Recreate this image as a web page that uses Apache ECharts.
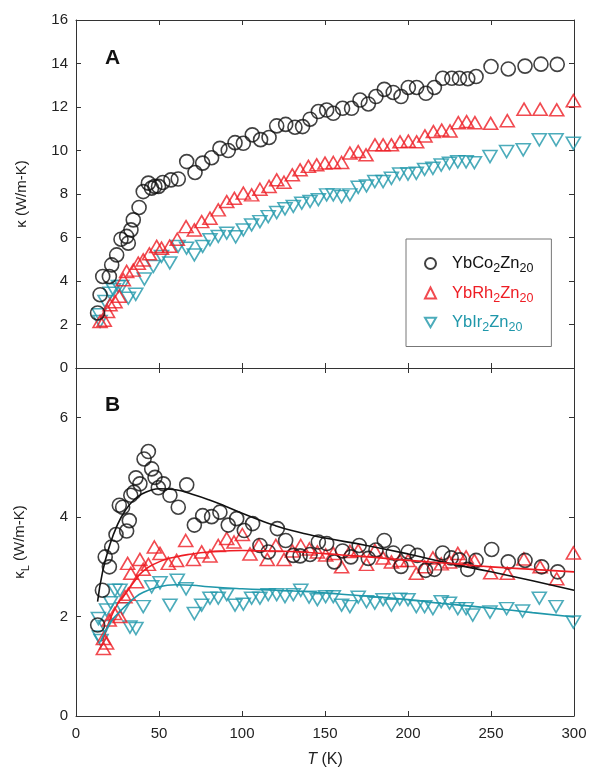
<!DOCTYPE html>
<html>
<head>
<meta charset="utf-8">
<script src="https://cdn.jsdelivr.net/npm/echarts@6/dist/echarts.min.js"></script>
<style>
  html, body { margin: 0; padding: 0; background: #fff; }
  #chart { width: 593px; height: 774px; }
</style>
</head>
<body>
<div id="chart"></div>
<script>
// Total thermal conductivity, kappa (W/m-K), panel A
const coT = [13.0, 14.5, 16.1, 20.1, 21.5, 24.5, 27.1, 30.5, 31.5, 33.1, 34.5, 38.0, 40.5, 43.6, 45.5, 47.5, 49.7, 52.3, 57.2, 61.6, 66.7, 71.7, 76.3, 81.7, 86.7, 91.7, 95.8, 100.8, 106.2, 111.2, 116.3, 120.9, 126.3, 131.9, 136.5, 141, 146, 151, 155, 160.6, 166, 171.1, 176.1, 180.7, 185.7, 191.1, 195.8, 200.2, 205.2, 210.8, 215.9, 220.9, 226.4, 231, 236, 241, 250, 260.4, 270.5, 280.1, 289.9];
const coK = [2.53, 3.37, 4.21, 4.21, 4.74, 5.2, 5.92, 6.05, 5.74, 6.35, 6.81, 7.38, 8.11, 8.5, 8.27, 8.35, 8.35, 8.53, 8.65, 8.69, 9.49, 8.99, 9.42, 9.67, 10.1, 10.0, 10.36, 10.33, 10.72, 10.5, 10.6, 11.13, 11.2, 11.07, 11.1, 11.44, 11.79, 11.86, 11.71, 11.94, 11.94, 12.32, 12.14, 12.48, 12.81, 12.67, 12.48, 12.9, 12.9, 12.63, 12.9, 13.32, 13.32, 13.32, 13.3, 13.4, 13.86, 13.75, 13.88, 13.97, 13.96];

const rhT = [14.5, 17, 19, 20.5, 23.5, 26, 28.5, 30.5, 34.5, 37.5, 40.5, 44.2, 48.6, 51.5, 56.4, 61, 66.3, 71.3, 75.7, 80.7, 85.7, 90.8, 95.4, 100.8, 105.8, 110.8, 116.3, 120.9, 125.3, 130.3, 135, 140, 145, 150, 155, 160, 165, 170, 174.7, 180.1, 185, 190, 195.2, 200.2, 205.2, 210.2, 215.3, 220.3, 225.3, 230.3, 235.3, 240.3, 249.8, 259.8, 269.9, 279.6, 289.6, 299.6];
const rhK = [2.14, 2.2, 2.6, 2.91, 3.05, 3.3, 4.06, 4.44, 4.5, 4.82, 4.97, 5.25, 5.59, 5.51, 5.6, 5.92, 6.5, 6.35, 6.73, 6.89, 7.27, 7.65, 7.8, 8.04, 7.96, 8.22, 8.35, 8.65, 8.54, 8.88, 9.11, 9.27, 9.34, 9.42, 9.45, 9.45, 9.88, 9.95, 9.8, 10.26, 10.26, 10.26, 10.4, 10.43, 10.4, 10.67, 10.87, 10.94, 10.9, 11.28, 11.33, 11.28, 11.25, 11.37, 11.9, 11.9, 11.87, 12.29];

const irT = [14, 14.5, 17.5, 20.5, 22.5, 25.5, 27.5, 31.5, 36, 41.2, 46.6, 51.5, 56.5, 61.5, 66.6, 71.3, 76.3, 80.7, 85.7, 90.8, 96.2, 100.8, 105.8, 110.8, 115.8, 120.9, 125.9, 130.9, 136, 141, 146, 151, 155, 160, 165, 170, 175, 180, 185, 190, 195, 200, 205, 210, 215, 220, 225, 230, 235, 240, 249.4, 259.4, 269.4, 279.1, 289.2, 299.6];
const irK = [2.45, 2.14, 3.06, 3.44, 3.6, 3.75, 3.75, 3.21, 3.39, 4.09, 4.67, 5.13, 4.83, 5.59, 5.51, 5.2, 5.59, 5.9, 6.05, 6.2, 6.03, 6.35, 6.58, 6.73, 6.96, 7.15, 7.32, 7.43, 7.58, 7.66, 7.74, 7.96, 7.96, 7.88, 7.96, 8.31, 8.37, 8.57, 8.57, 8.72, 8.92, 8.92, 8.95, 9.13, 9.18, 9.33, 9.41, 9.48, 9.48, 9.44, 9.72, 9.95, 10.03, 10.49, 10.49, 10.33];

// Lattice thermal conductivity, kappa_L (W/m-K), panel B
const coLT = [13.05, 15.9, 17.6, 20.1, 21.5, 24.1, 26.1, 28.1, 30.5, 32.1, 33, 34.9, 36.1, 38.5, 41, 43.6, 45.6, 47.6, 49.6, 52.6, 56.6, 61.6, 66.7, 71.3, 76.3, 81.7, 86.7, 91.7, 96.8, 101.4, 106.4, 110.8, 115.8, 121.3, 126.3, 130.9, 135, 141, 146, 151, 155.6, 160.6, 165.6, 170.6, 176.1, 180.7, 185.7, 191.1, 195.8, 200.2, 205.6, 210.6, 215.9, 220.9, 226, 231, 236, 241, 250.4, 260.4, 270.5, 280.5, 290.2];
const coLK = [1.83, 2.53, 3.2, 3.0, 3.4, 3.65, 4.24, 4.2, 3.72, 3.93, 4.44, 4.5, 4.79, 4.67, 5.17, 5.32, 4.97, 4.8, 4.59, 4.67, 4.44, 4.2, 4.65, 3.84, 4.03, 4.01, 4.1, 3.84, 3.97, 3.73, 3.87, 3.43, 3.3, 3.77, 3.53, 3.23, 3.22, 3.25, 3.5, 3.47, 3.1, 3.32, 3.2, 3.43, 3.17, 3.34, 3.53, 3.28, 3.01, 3.3, 3.23, 2.93, 2.95, 3.28, 3.18, 3.14, 2.95, 3.13, 3.35, 3.1, 3.13, 3.0, 2.9];

const rhLT = [16.5, 16.5, 18.4, 20, 23.3, 26.5, 29.5, 31.5, 31.1, 33, 36.5, 38.5, 40.5, 43.6, 47.2, 50.6, 55.6, 60.6, 66.1, 70.7, 75.7, 80.7, 85.7, 90.8, 95.2, 100.2, 104.8, 110.2, 115.2, 120.4, 125.3, 130.3, 135.4, 140.6, 145.4, 150.4, 155, 160, 165, 170, 175, 180, 185, 190, 195, 200, 205, 210, 215, 220, 225, 230, 235, 240, 249.8, 259.8, 269.8, 279.6, 289.6, 299.6];
const rhLK = [1.36, 1.56, 1.47, 1.93, 2.06, 2.0, 2.4, 2.45, 3.07, 2.87, 2.7, 3.15, 2.95, 3.05, 3.4, 3.27, 3.07, 3.13, 3.53, 3.15, 3.3, 3.22, 3.43, 3.57, 3.5, 3.65, 3.26, 3.44, 3.15, 3.43, 3.15, 3.32, 3.43, 3.36, 3.3, 3.24, 3.27, 3.0, 3.31, 3.33, 3.05, 3.33, 3.18, 3.1, 3.13, 3.13, 2.87, 3.0, 3.18, 3.06, 3.1, 3.27, 3.2, 3.13, 2.88, 2.87, 3.16, 3.0, 2.76, 3.28];

const irLT = [13.5, 14.1, 15.1, 17.5, 18.4, 20.9, 23.5, 26.5, 28.1, 32.5, 36.1, 40.5, 45.6, 50.6, 56.6, 61, 66.3, 71.3, 75.7, 80.7, 85.7, 90.8, 95.8, 100.8, 105.8, 110.8, 115.8, 120.9, 125.9, 130.9, 135.4, 140.4, 145.4, 150.4, 155, 160, 165, 170, 175, 180, 185, 190, 195, 200, 205, 210, 215, 220, 225, 230, 235, 239, 249.4, 259.4, 269, 279.1, 289.2, 299.6];
const irLK = [1.96, 1.59, 1.52, 1.8, 2.13, 2.28, 2.53, 2.53, 2.16, 1.79, 1.76, 2.2, 2.6, 2.68, 2.23, 2.73, 2.56, 2.06, 2.23, 2.37, 2.37, 2.44, 2.23, 2.25, 2.37, 2.37, 2.44, 2.44, 2.4, 2.44, 2.53, 2.39, 2.34, 2.4, 2.4, 2.23, 2.2, 2.39, 2.3, 2.27, 2.34, 2.23, 2.35, 2.34, 2.2, 2.2, 2.16, 2.3, 2.27, 2.16, 2.16, 2.03, 2.09, 2.16, 2.11, 2.37, 2.2, 1.89];

// Model fit curves for kappa_L
const coFitT = [13, 16, 20, 25, 30, 35, 40, 45, 50, 60, 70, 80, 90, 100, 110, 120, 130, 140, 150, 175, 200, 225, 250, 275, 300];
const coFitK = [2.3, 2.9, 3.4, 3.85, 4.15, 4.35, 4.47, 4.54, 4.57, 4.55, 4.46, 4.35, 4.22, 4.08, 3.95, 3.83, 3.73, 3.65, 3.58, 3.43, 3.26, 3.07, 2.9, 2.72, 2.53];
const rhFitT = [16, 20, 25, 30, 35, 40, 50, 60, 70, 80, 90, 100, 120, 140, 160, 180, 200, 225, 250, 275, 300];
const rhFitK = [1.5, 1.9, 2.25, 2.47, 2.7, 2.9, 3.1, 3.2, 3.26, 3.3, 3.32, 3.33, 3.32, 3.29, 3.24, 3.19, 3.13, 3.07, 3.0, 2.95, 2.9];
const irFitT = [15, 20, 25, 30, 35, 40, 50, 60, 70, 80, 100, 120, 140, 160, 180, 200, 225, 250, 275, 300];
const irFitK = [1.5, 1.85, 2.05, 2.22, 2.37, 2.48, 2.6, 2.64, 2.63, 2.6, 2.56, 2.53, 2.5, 2.45, 2.4, 2.34, 2.25, 2.17, 2.08, 1.99];

// Axis ticks
const tTicks = [0, 50, 100, 150, 200, 250, 300];
const kTicks = [0, 2, 4, 6, 8, 10, 12, 14, 16];
const kLTicks = [0, 2, 4, 6];

const names = ['YbCo2Zn20', 'YbRh2Zn20', 'YbIr2Zn20'];
const nameParts = [
  [['YbCo', 'n'], ['2', 's'], ['Zn', 'n'], ['20', 's']],
  [['YbRh', 'n'], ['2', 's'], ['Zn', 'n'], ['20', 's']],
  [['YbIr', 'n'], ['2', 's'], ['Zn', 'n'], ['20', 's']]
];
const colors = ['#111111', '#ee1d24', '#1f97aa'];

const FONT = '"Liberation Sans", Arial, sans-serif';
const downTri = 'path://M0,0L14,0L7,12Z';
const symbols = ['circle', 'triangle', downTri];
const symSizes = [14, [14, 12], [14, 12]];

const zip = (xs, ys) => xs.map((x, i) => [x, ys[i]]);

const tick = { show: true, inside: true, length: 5, lineStyle: { color: '#333' } };
const line = { show: true, onZero: false, lineStyle: { color: '#333', width: 1 } };
const label = { fontFamily: FONT, fontSize: 15, color: '#222' };

function xAxis(grid, pos, withLabels) {
  return {
    type: 'value', gridIndex: grid, position: pos,
    min: tTicks[0], max: tTicks[tTicks.length - 1], interval: tTicks[1] - tTicks[0],
    axisLine: line, axisTick: tick, splitLine: { show: false },
    axisLabel: Object.assign({ show: withLabels, margin: 10 }, label)
  };
}
function yAxis(grid, pos, ticks, max, withLabels) {
  return {
    type: 'value', gridIndex: grid, position: pos,
    min: 0, max: max, interval: ticks[1] - ticks[0],
    axisLine: line, axisTick: tick, splitLine: { show: false },
    axisLabel: Object.assign({
      show: withLabels, margin: 8,
      formatter: v => (ticks.indexOf(v) >= 0 ? String(v) : '')
    }, label)
  };
}

const yTopL = yAxis(0, 'left', kTicks, 16, true);
Object.assign(yTopL, {
  name: 'κ (W/m-K)', nameLocation: 'middle', nameRotate: 90, nameGap: 47,
  nameTextStyle: { fontFamily: FONT, fontSize: 15, color: '#222' }
});
const yBotL = yAxis(1, 'left', kLTicks, 7, true);
Object.assign(yBotL, {
  name: '{a|κ}{b|L}{a| (W/m-K)}', nameLocation: 'middle', nameRotate: 90, nameGap: 45,
  nameTextStyle: {
    fontFamily: FONT, fontSize: 15, color: '#222',
    rich: {
      a: { fontFamily: FONT, fontSize: 15, color: '#222', lineHeight: 22 },
      b: { fontFamily: FONT, fontSize: 11, color: '#222', lineHeight: 12, verticalAlign: 'bottom' }
    }
  }
});
const xBot = xAxis(1, 'bottom', true);
Object.assign(xBot, {
  name: '{i|T} (K)', nameLocation: 'middle', nameGap: 36,
  nameTextStyle: {
    fontFamily: FONT, fontSize: 16, color: '#222',
    rich: { i: { fontFamily: FONT, fontSize: 16, fontStyle: 'italic', color: '#222' } }
  }
});

const series = [];
const measured = [[coT, coK, coLT, coLK], [rhT, rhK, rhLT, rhLK], [irT, irK, irLT, irLK]];
const fits = [[coFitT, coFitK], [rhFitT, rhFitK], [irFitT, irFitK]];
measured.forEach((m, i) => {
  const style = { color: 'rgba(0,0,0,0)', borderColor: colors[i], borderWidth: 1.6 };
  series.push({
    name: names[i], type: 'scatter', xAxisIndex: 0, yAxisIndex: 0,
    symbol: symbols[i], symbolSize: symSizes[i], itemStyle: style,
    data: zip(m[0], m[1]), z: 3 - i
  });
  series.push({
    name: names[i], type: 'scatter', xAxisIndex: 2, yAxisIndex: 2,
    symbol: symbols[i], symbolSize: symSizes[i], itemStyle: style,
    data: zip(m[2], m[3]), z: 3 - i
  });
});
fits.forEach((f, i) => {
  series.push({
    type: 'line', xAxisIndex: 2, yAxisIndex: 2, smooth: true, showSymbol: false,
    lineStyle: { color: colors[i], width: 1.6 }, data: zip(f[0], f[1]), z: 4
  });
});

// Legend text with chemical subscripts
const rich = {};
colors.forEach((c, i) => {
  rich['n' + i] = { fontFamily: FONT, fontSize: 16.5, color: c, lineHeight: 24 };
  rich['s' + i] = { fontFamily: FONT, fontSize: 12.5, color: c, lineHeight: 14, verticalAlign: 'bottom' };
});

const option = {
  backgroundColor: '#fff',
  animation: false,
  grid: [
    { left: 76, top: 20, width: 498, height: 348 },
    { left: 76, top: 368, width: 498, height: 348 }
  ],
  xAxis: [xAxis(0, 'bottom', false), xAxis(0, 'top', false), xBot, xAxis(1, 'top', false)],
  yAxis: [yTopL, yAxis(0, 'right', kTicks, 16, false), yBotL, yAxis(1, 'right', kLTicks, 7, false)],
  legend: {
    data: names, orient: 'vertical', left: 406, top: 239,
    itemWidth: 11, itemHeight: 11, itemGap: 9,
    padding: [16, 18, 12, 18],
    borderColor: '#777', borderWidth: 1,
    selectedMode: false,
    textStyle: { rich: rich, padding: [0, 0, 0, 11] },
    formatter: name => {
      const i = names.indexOf(name);
      return nameParts[i].map(p => '{' + p[1] + i + '|' + p[0] + '}').join('');
    }
  },
  graphic: [
    { type: 'text', left: 105, top: 48, style: { text: 'A', font: 'bold 21px ' + FONT, fill: '#111' } },
    { type: 'text', left: 105, top: 395, style: { text: 'B', font: 'bold 21px ' + FONT, fill: '#111' } }
  ],
  series: series
};

const chart = echarts.init(document.getElementById('chart'), null, { renderer: 'canvas' });
chart.setOption(option);
</script>
</body>
</html>
